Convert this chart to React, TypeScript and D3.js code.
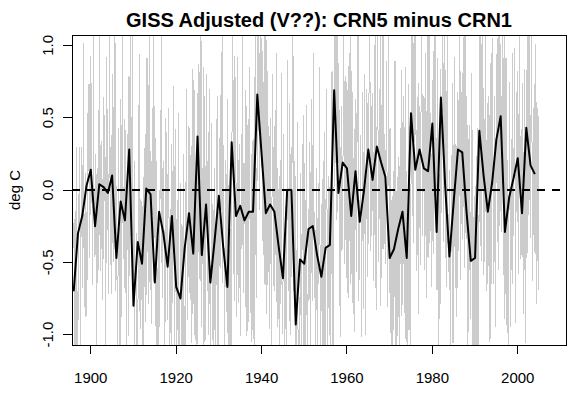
import React from 'react';
import * as d3 from 'd3';

const W = 583;
const H = 398;

const startYear = 1896;

// annual means (black line), 1896..2004
const annual = [
  -0.70, -0.30, -0.18, 0.03, 0.14, -0.25, 0.04, 0.02, -0.02, 0.10,
  -0.47, -0.08, -0.21, 0.28, -0.80, -0.36, -0.51, 0.01, -0.03, -0.64,
  -0.15, -0.30, -0.53, -0.18, -0.67, -0.75, -0.40, -0.16, -0.44, 0.37,
  -0.45, -0.10, -0.64, -0.35, -0.04, -0.39, -0.67, 0.33, -0.18, -0.11,
  -0.21, -0.15, -0.15, 0.66, 0.25, -0.16, -0.10, -0.15, -0.39, -0.61,
  0.00, 0.00, -0.93, -0.48, -0.51, -0.27, -0.25, -0.45, -0.60, -0.40,
  -0.38, 0.69, -0.02, 0.19, 0.15, -0.18, 0.13, -0.22, 0.00, 0.28,
  0.07, 0.30, 0.19, 0.09, -0.47, -0.41, -0.27, -0.15, -0.47, 0.53,
  0.14, 0.28, 0.15, 0.13, 0.46, -0.29, 0.64, 0.03, -0.46, -0.08,
  0.28, 0.26, -0.15, -0.49, -0.47, 0.41, 0.10, -0.15, 0.05, 0.35,
  0.51, -0.29, -0.05, 0.08, 0.22, -0.16, 0.43, 0.17, 0.11,
];

// monthly departures from the annual mean (grey line), one row per year from 1896
const monthlyDev = [
  0.3,0.5,0.2,-0.2,-0.5,-0.4,0.1,1.0,0.2,-0.3,-0.6,-0.3,
  -0.4,-0.6,-0.2,0.3,0.6,0.4,-0.1,-1.0,-0.3,0.2,0.5,0.6,
  0.1,-0.3,-0.5,1.2,0.4,0.0,-0.2,-0.4,-0.7,0.3,0.2,-0.1,
  -0.6,-0.9,-0.3,0.2,0.5,0.3,0.7,0.1,-0.2,-0.5,0.9,-0.2,
  0.4,0.6,0.3,-0.1,-0.4,-0.8,-0.5,0.2,1.3,-0.1,-0.6,-0.3,
  -0.2,0.2,0.5,0.3,-0.9,-0.6,-0.2,0.4,0.2,-0.3,0.8,-0.2,
  0.6,1.1,0.2,-0.3,-0.6,-0.4,0.0,0.3,-0.2,-0.8,-0.5,0.6,
  -0.5,-0.2,0.3,0.5,0.2,-0.1,-1.1,-0.4,0.4,0.9,0.3,-0.3,
  0.2,-0.4,-0.7,-0.3,1.4,0.3,0.1,-0.5,-0.2,0.4,-0.6,-0.7,
  -0.3,0.4,0.7,0.2,-0.4,-0.6,-0.3,0.5,1.0,-0.2,-0.8,-0.2,
  0.5,0.2,-0.3,-0.7,-0.4,0.1,0.9,0.4,-0.2,-0.6,-1.0,1.1,
  -0.1,-0.5,-0.8,0.3,0.6,1.2,0.2,-0.4,-0.3,0.1,-0.6,0.3,
  0.7,0.3,-0.2,-0.5,-0.9,-0.3,0.4,0.6,0.1,-0.4,1.0,-0.8,
  -0.4,0.1,0.4,0.8,0.2,-0.3,-0.7,-0.5,0.3,1.2,-0.6,-0.5,
  0.2,0.6,1.0,0.3,-0.2,-0.5,-0.3,-0.8,0.4,0.5,-0.1,-1.1,
  -0.7,-0.3,0.2,0.5,1.3,0.1,-0.4,-0.6,-0.2,0.3,0.2,-0.4,
  0.4,-0.2,-0.6,-1.0,-0.3,0.3,0.8,0.5,0.0,-0.4,0.9,-0.4,
  -0.2,0.5,0.9,0.4,-0.1,-0.5,-0.8,-0.3,1.2,0.2,-0.6,-0.7,
  0.3,-0.5,-0.9,-0.4,0.2,0.6,0.3,-0.2,-0.6,1.1,0.4,-0.3,
  0.6,0.2,-0.3,1.0,0.5,-0.2,-0.7,-0.4,0.1,-0.5,0.3,-0.6,
  -0.5,-0.8,-0.2,0.4,0.7,0.2,-0.1,1.3,-0.3,-0.6,-0.4,0.3,
  0.2,0.5,-0.1,-0.6,-1.0,-0.4,0.3,0.8,0.4,-0.2,0.7,-0.6,
  -0.3,0.3,0.7,1.1,0.2,-0.5,-0.8,-0.3,0.4,0.1,-0.6,-0.3,
  0.5,-0.2,-0.6,-0.3,0.4,0.9,0.3,-0.4,-1.1,-0.2,0.6,0.1,
  -0.6,-0.2,0.4,0.6,0.2,-0.3,1.2,0.1,-0.5,-0.7,-0.2,0.0,
  0.3,0.8,0.3,-0.2,-0.7,-0.4,0.5,0.2,-0.3,1.0,-0.6,-0.9,
  -0.4,-0.9,-0.3,0.2,0.6,1.1,0.4,-0.2,-0.5,-0.1,0.3,-0.2,
  0.6,0.3,-0.2,-0.6,-0.3,0.4,-0.9,-0.5,0.1,0.8,1.0,-0.7,
  -0.2,0.4,1.2,0.5,-0.1,-0.6,-0.4,0.2,0.6,-0.3,-0.8,-0.5,
  0.3,-0.4,-0.8,-0.2,0.5,0.2,-0.6,-1.0,0.4,0.9,0.6,0.1,
  -0.5,0.2,0.6,0.3,-0.4,-0.8,1.3,0.4,-0.2,-0.6,-0.1,-0.2,
  0.4,0.9,0.2,-0.3,-0.6,0.1,0.5,-0.4,-0.9,-0.2,0.8,-0.5,
  -0.3,-0.6,0.2,0.7,1.1,0.3,-0.4,-0.2,0.5,-0.7,-0.4,-0.2,
  0.5,0.1,-0.4,-0.8,-0.3,0.6,0.3,1.0,0.2,-0.5,-0.9,0.2,
  -0.6,-0.3,0.4,0.2,-0.2,-0.5,0.7,0.4,-0.1,1.2,-0.6,-0.6,
  0.2,0.7,0.3,-0.4,-1.0,-0.5,0.3,0.6,0.1,-0.2,0.5,-0.6,
  0.6,1.3,0.4,-0.2,-0.5,-0.8,-0.3,0.2,0.4,-0.1,-0.6,-0.4,
  -0.4,0.1,0.5,0.8,0.3,-0.3,-0.7,-1.1,0.2,0.6,0.2,-0.2,
  0.3,-0.2,-0.7,-0.4,0.4,1.1,0.2,-0.3,-0.6,0.5,-0.5,0.2,
  -0.5,-0.9,-0.2,0.5,0.3,-0.3,0.6,1.2,0.1,-0.4,-0.6,0.2,
  0.4,0.2,-0.3,-0.6,0.9,0.5,-0.2,-0.8,-0.4,0.3,0.7,-0.7,
  -0.2,0.6,1.0,0.3,-0.4,-0.7,-0.2,0.4,0.2,-0.9,-0.4,0.3,
  0.5,-0.1,-0.5,-1.0,-0.3,0.4,1.3,0.2,-0.3,0.1,-0.6,0.3,
  -0.6,-0.2,0.4,0.7,0.3,-0.4,-0.8,-0.3,0.6,1.0,-0.2,-0.5,
  0.2,0.8,0.4,-0.3,-0.6,-0.2,0.5,-0.9,-0.4,0.3,1.1,-0.9,
  -0.3,-0.7,0.3,1.2,0.4,-0.2,-0.5,0.2,0.6,-0.4,-0.8,0.2,
  0.6,0.3,-0.2,-0.6,-1.0,-0.2,0.5,0.9,0.2,-0.3,0.4,-0.6,
  -0.4,0.2,0.7,0.4,-0.3,1.1,0.2,-0.5,-0.8,-0.4,0.3,-0.5,
  0.3,-0.5,-0.9,-0.2,0.6,0.3,-0.4,0.8,1.2,0.0,-0.6,-0.6,
  -0.2,0.4,1.0,0.2,-0.5,-0.8,-0.3,0.5,0.3,-0.6,0.4,-0.4,
  0.5,0.9,0.2,-0.4,-0.7,-0.3,0.6,0.2,-1.0,-0.4,0.1,0.3,
  -0.6,-0.2,0.5,0.3,1.2,0.4,-0.3,-0.7,-0.4,0.2,-0.5,0.1,
  0.4,-0.3,-0.6,0.2,0.7,1.4,0.3,-0.5,-0.8,-0.2,-0.4,-0.2,
  -0.3,0.6,0.2,-0.5,-0.9,-0.3,0.4,0.8,0.3,-0.2,1.0,-1.1,
  0.7,0.3,-0.4,-0.8,-0.2,0.5,1.1,0.2,-0.6,-0.3,-0.7,0.2,
  -0.5,-0.1,0.6,0.3,-0.4,-1.0,-0.2,0.4,0.9,0.3,-0.5,0.2,
  0.2,0.8,1.2,0.3,-0.5,-0.3,0.1,-0.6,-0.9,-0.2,0.4,-0.5,
  -0.4,-0.7,-0.2,0.5,0.3,-0.2,0.6,1.3,0.2,-0.4,-0.8,-0.2,
  0.5,0.2,-0.3,-0.6,0.4,0.8,0.3,-0.5,-0.2,1.0,-0.7,-0.9,
  -0.2,0.3,0.6,1.1,0.2,-0.4,-0.8,-0.3,0.5,-0.2,-0.6,-0.2,
  0.4,-0.2,-0.7,-0.3,0.3,0.6,1.2,0.1,-0.5,-0.9,-0.3,0.3,
  -0.6,-0.3,0.4,0.2,-0.5,0.7,0.3,-0.2,-0.9,0.5,0.9,-0.5,
  0.3,0.9,0.4,-0.2,-0.6,-1.0,-0.3,0.2,0.6,0.3,-0.4,-0.2,
  -0.5,0.1,0.5,1.2,0.3,-0.3,-0.7,-0.4,0.2,0.6,-0.2,-0.8,
  0.6,0.2,-0.4,-0.9,-0.2,0.4,0.8,0.3,-0.5,1.1,-0.6,-0.8,
  -0.3,0.5,1.0,0.2,-0.6,-0.3,0.4,-0.2,-0.8,-0.4,0.6,-0.1,
  0.5,-0.2,-0.7,-0.4,0.3,0.7,0.2,1.2,-0.3,-0.9,-0.2,-0.2,
  -0.4,0.2,0.6,0.3,-0.3,-0.8,-0.4,0.5,0.9,0.2,-0.6,-0.2,
  0.3,0.8,0.2,-0.5,-1.0,-0.3,0.4,0.7,-0.2,0.6,-0.6,-0.4,
  -0.5,-0.2,0.4,0.7,1.3,0.2,-0.4,-0.7,-0.3,0.3,-0.6,-0.2,
  0.6,0.3,-0.3,-0.7,-0.4,0.2,0.5,1.0,0.3,-0.5,-0.9,-0.1,
  -0.2,0.5,0.9,0.3,-0.4,-0.8,-0.3,0.4,0.2,-0.6,1.1,-1.1,
  0.4,-0.3,-0.8,-0.4,0.5,1.2,0.4,-0.2,-0.6,-0.3,0.2,-0.1,
  -0.6,-0.2,0.3,0.8,0.4,-0.3,-0.9,-0.4,0.6,1.0,0.1,-0.8,
  0.3,0.9,0.5,-0.2,-0.6,-0.3,0.4,-1.0,-0.4,0.3,0.6,-0.5,
  -0.4,-0.1,0.6,1.3,0.3,-0.5,-0.8,-0.3,0.2,0.5,-0.6,-0.2,
  0.5,0.2,-0.5,-0.9,-0.3,0.4,0.7,0.2,-0.3,1.1,-0.6,-0.5,
  -0.3,0.4,0.8,0.3,-0.2,-0.7,-0.4,0.5,1.0,-0.3,-0.9,-0.2,
  0.6,0.2,-0.4,-0.8,-0.3,0.3,1.2,0.4,-0.5,-0.2,-0.6,0.1,
  -0.5,-0.2,0.5,0.9,0.2,-0.4,-0.9,-0.3,0.4,0.6,-0.1,-0.2,
  0.4,1.0,0.3,-0.3,-0.7,-0.2,0.5,0.2,-1.0,-0.4,0.6,-0.4,
  -0.2,0.3,-0.4,-0.8,0.2,0.7,1.3,0.3,-0.5,-0.6,-0.2,-0.1,
  0.5,-0.3,-0.7,0.3,0.8,0.2,-0.4,-0.9,-0.3,0.4,1.0,-0.6,
  -0.6,0.2,0.7,1.1,0.3,-0.5,-0.2,0.4,-0.3,-0.8,-0.4,0.1,
  0.3,-0.4,-0.9,-0.3,0.5,0.2,-0.5,0.7,1.0,0.2,-0.6,-0.2,
  -0.4,0.6,1.2,0.3,-0.5,-0.8,-0.2,0.4,0.2,-0.6,0.3,-0.5,
  0.2,-0.5,-0.8,-0.2,0.4,0.7,0.2,-0.4,-1.0,0.5,0.9,0.0,
  -0.5,0.3,0.8,0.4,-0.3,-0.7,1.1,0.3,-0.4,-0.6,-0.2,-0.2,
  0.6,0.2,-0.5,-0.9,-0.3,0.4,0.7,0.2,-0.6,1.2,-0.4,-0.6,
  -0.3,0.5,1.0,0.2,-0.6,-0.3,0.4,-0.8,-0.4,0.3,0.6,-0.6,
  0.4,-0.2,-0.7,-0.3,0.6,1.1,0.3,-0.5,-0.9,-0.2,0.4,0.0,
  -0.6,-0.2,0.5,0.8,0.3,-0.4,-0.8,0.2,1.0,0.3,-0.5,-0.6,
  0.3,0.8,0.3,-0.4,-1.0,-0.3,0.5,0.2,-0.4,0.6,-0.6,0.0,
  -0.4,0.2,0.6,1.3,0.4,-0.3,-0.7,-0.2,0.3,-0.6,-0.4,-0.2,
  0.5,0.2,-0.4,-0.8,-0.2,0.5,0.9,0.3,-0.5,-1.0,0.3,0.2,
  -0.3,0.4,0.9,0.2,-0.5,-0.9,-0.3,0.6,0.3,-0.4,1.0,-1.0,
  0.6,-0.2,-0.6,-0.3,0.4,1.2,0.3,-0.4,-0.8,-0.2,0.5,-0.5,
  -0.5,-0.2,0.5,0.8,0.2,-0.4,-0.9,-0.3,0.6,1.1,-0.4,-0.5,
  0.4,1.0,0.4,-0.3,-0.7,-0.4,0.2,0.6,-0.5,-1.0,0.3,0.0,
  -0.2,0.3,0.7,0.2,-0.5,-0.9,-0.3,1.3,0.4,-0.4,-0.6,0.0,
  0.5,-0.3,-0.8,-0.4,0.3,0.9,0.2,-0.5,-1.1,0.2,0.7,0.3,
  -0.6,0.2,0.6,1.2,0.3,-0.4,-0.7,-0.2,0.5,0.1,-0.8,-0.2,
  0.3,0.8,0.2,-0.5,-0.9,-0.3,0.4,0.2,-0.6,1.0,-0.4,-0.2,
  -0.4,-0.1,0.5,0.9,0.3,-0.6,-1.0,-0.2,0.4,0.6,-0.3,-0.1,
  0.6,0.2,-0.5,-0.8,0.3,1.1,0.4,-0.3,-0.7,-0.2,0.2,-0.3,
  -0.3,0.4,0.9,0.3,-0.4,-0.7,-0.2,0.6,1.0,-0.5,-0.9,-0.2,
  0.4,-0.4,-0.9,-0.3,0.5,0.8,0.2,-0.6,-0.2,1.1,-0.5,-0.1,
  -0.5,0.2,0.7,1.2,0.2,-0.5,-0.8,-0.3,0.4,-0.2,-0.6,0.2,
  0.3,0.9,0.3,-0.4,-0.9,-0.2,0.5,0.2,-0.6,0.4,-0.8,0.3,
];

const xTicks = [1900, 1920, 1940, 1960, 1980, 2000];
const yTicks = [-1.0, -0.5, 0.0, 0.5, 1.0];

const title = 'GISS Adjusted (V??): CRN5 minus CRN1';
const yLabel = 'deg C';

const font = '"Liberation Sans", Arial, sans-serif';

const App: React.FC = () => {
  const left = 72;
  const right = 566;
  const top = 35;
  const bottom = 345;

  const x = d3.scaleLinear().domain([1895.6, 2011.3]).range([left, right]);
  const y = d3.scaleLinear().domain([-1.072, 1.072]).range([bottom, top]);

  const monthPts = monthlyDev.map(
    (d, i) => [startYear + i / 12, annual[Math.floor(i / 12)] + d] as [number, number]
  );
  const yearPts = annual.map((v, i) => [startYear + i, v] as [number, number]);

  const line = d3
    .line<[number, number]>()
    .x(d => x(d[0]))
    .y(d => y(d[1]));

  return (
    <svg
      width={W}
      height={H}
      style={{ position: 'absolute', left: 0, top: 0, background: '#fff' }}
    >
      <defs>
        <clipPath id="plot">
          <rect x={left} y={top} width={right - left} height={bottom - top} />
        </clipPath>
      </defs>
      <rect width={W} height={H} fill="#fff" />

      <g clipPath="url(#plot)">
        {/* monthly series, drawn un-antialiased like the R device */}
        <path
          d={line(monthPts) || ''}
          fill="none"
          stroke="#cccccc"
          strokeWidth={1}
          shapeRendering="crispEdges"
        />
        <path d={line(yearPts) || ''} fill="none" stroke="#000" strokeWidth={2} strokeLinejoin="round" />
        <line
          x1={left}
          x2={right}
          y1={y(0)}
          y2={y(0)}
          stroke="#000"
          strokeWidth={2}
          strokeDasharray="8,7"
        />
      </g>

      <rect
        x={left}
        y={top}
        width={right - left}
        height={bottom - top}
        fill="none"
        stroke="#000"
        strokeWidth={1}
        shapeRendering="crispEdges"
      />

      {/* x axis */}
      <g fontFamily={font} fontSize={15}>
        {xTicks.map(t => (
          <g key={t}>
            <line
              x1={x(t)}
              x2={x(t)}
              y1={bottom}
              y2={bottom + 9}
              stroke="#000"
              shapeRendering="crispEdges"
            />
            <text x={x(t)} y={bottom + 38} textAnchor="middle">
              {t}
            </text>
          </g>
        ))}
      </g>

      {/* y axis */}
      <g fontFamily={font} fontSize={15}>
        {yTicks.map(t => (
          <g key={t}>
            <line
              x1={left - 9}
              x2={left}
              y1={y(t)}
              y2={y(t)}
              stroke="#000"
              shapeRendering="crispEdges"
            />
            <text
              transform={`translate(${left - 19},${y(t)}) rotate(-90)`}
              textAnchor="middle"
            >
              {t.toFixed(1)}
            </text>
          </g>
        ))}
        <text transform={`translate(20,${(top + bottom) / 2}) rotate(-90)`} textAnchor="middle">
          {yLabel}
        </text>
      </g>

      <text
        x={(left + right) / 2}
        y={27}
        textAnchor="middle"
        fontFamily={font}
        fontSize={20}
        fontWeight="bold"
      >
        {title}
      </text>
    </svg>
  );
};

export default App;
